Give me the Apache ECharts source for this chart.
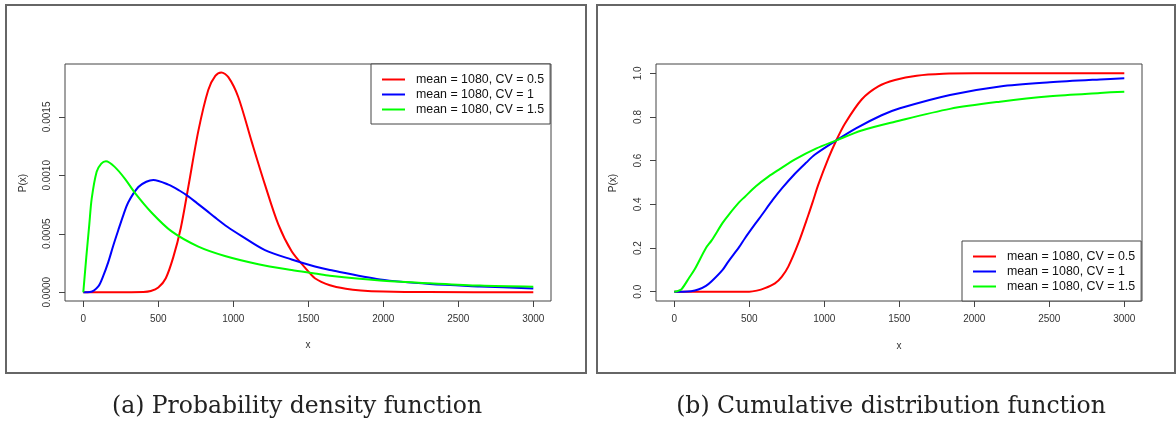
<!DOCTYPE html>
<html>
<head>
<meta charset="utf-8">
<script src="https://cdn.jsdelivr.net/npm/echarts@6/dist/echarts.min.js"></script>
<style>html,body{margin:0;padding:0;background:#fff}#c{width:1176px;height:431px}</style>
</head>
<body>
<div id="c"></div>
<script>
// ---- data ----
const seriesNames = ['mean = 1080, CV = 0.5', 'mean = 1080, CV = 1', 'mean = 1080, CV = 1.5'];
const xTicks = [0, 500, 1000, 1500, 2000, 2500, 3000];
const pdfTicks = [0, 0.0005, 0.0010, 0.0015];
const cdfTicks = [0, 0.2, 0.4, 0.6, 0.8, 1.0];

// PDF, CV = 0.5
const pdfRedX = [0, 200, 400, 450, 500, 550, 600, 650, 700, 767, 833, 880, 920, 967, 1033, 1122, 1211, 1300, 1389, 1478, 1544, 1644, 1750, 1850, 2000, 2300, 3000];
const pdfRedY = [0, 0, 0.000002, 0.00001, 0.00004, 0.00012, 0.00030, 0.00055, 0.00090, 0.00138, 0.00173, 0.00185, 0.00188, 0.00184, 0.00167, 0.00129, 0.00092, 0.00058, 0.00035, 0.00021, 0.00012, 0.00006, 0.00003, 0.000015, 0.000006, 0.000001, 0];
// PDF, CV = 1
const pdfBlueX = [0, 45, 100, 133, 167, 200, 233, 267, 300, 367, 420, 467, 567, 640, 700, 760, 820, 878, 960, 1056, 1211, 1389, 1544, 1644, 1978, 2311, 2644, 3000];
const pdfBlueY = [0, 0.000002, 0.00005, 0.00014, 0.00026, 0.00040, 0.00053, 0.00066, 0.00077, 0.00090, 0.000945, 0.00096, 0.00092, 0.00087, 0.00082, 0.00076, 0.00070, 0.00064, 0.00056, 0.00048, 0.00036, 0.00028, 0.00022, 0.00019, 0.00011, 0.00007, 0.00005, 0.000032];
// PDF, CV = 1.5
const pdfGreenX = [0, 20, 40, 56, 89, 120, 151, 211, 278, 344, 456, 589, 767, 944, 1167, 1389, 1544, 1644, 1978, 2311, 2644, 3000];
const pdfGreenY = [0, 0.0003, 0.00058, 0.00080, 0.00103, 0.00110, 0.00112, 0.00107, 0.00097, 0.00085, 0.00068, 0.00052, 0.00039, 0.00031, 0.00024, 0.00019, 0.00016, 0.00014, 0.00010, 0.000077, 0.000057, 0.000047];

// CDF, CV = 0.5
const cdfRedX = [0, 500, 550, 600, 671, 716, 760, 827, 893, 927, 960, 1027, 1078, 1138, 1249, 1360, 1471, 1616, 1793, 2000, 3000];
const cdfRedY = [0, 0, 0.005, 0.015, 0.038, 0.068, 0.115, 0.222, 0.35, 0.42, 0.49, 0.61, 0.69, 0.77, 0.88, 0.94, 0.969, 0.989, 0.998, 1, 1];
// CDF, CV = 1
const cdfBlueX = [0, 60, 112, 160, 211, 249, 322, 360, 433, 471, 544, 582, 656, 720, 804, 878, 938, 1078, 1211, 1382, 1504, 1838, 2171, 2504, 2838, 3000];
const cdfBlueY = [0, 0, 0.002, 0.01, 0.027, 0.048, 0.10, 0.138, 0.205, 0.245, 0.315, 0.35, 0.42, 0.475, 0.54, 0.59, 0.628, 0.692, 0.748, 0.808, 0.84, 0.901, 0.94, 0.959, 0.972, 0.977];
// CDF, CV = 1.5
const cdfGreenX = [0, 25, 49, 100, 138, 211, 249, 322, 360, 433, 471, 544, 627, 700, 811, 944, 1078, 1249, 1471, 1838, 2171, 2504, 2838, 3000];
const cdfGreenY = [0, 0.004, 0.012, 0.065, 0.105, 0.2, 0.235, 0.315, 0.35, 0.41, 0.435, 0.483, 0.527, 0.56, 0.608, 0.655, 0.692, 0.738, 0.778, 0.837, 0.87, 0.895, 0.91, 0.916];

const colors = ['#FF0000', '#0000FF', '#00FF00'];

// ---- build chart ----
const zip = (xs, ys) => xs.map((x, i) => [x, ys[i]]);
const pdfData = [zip(pdfRedX, pdfRedY), zip(pdfBlueX, pdfBlueY), zip(pdfGreenX, pdfGreenY)];
const cdfData = [zip(cdfRedX, cdfRedY), zip(cdfBlueX, cdfBlueY), zip(cdfGreenX, cdfGreenY)];

const sans = 'Liberation Sans, Arial, sans-serif';
const axisColor = '#444';
const labelStyle = { fontFamily: sans, fontSize: 10, color: '#333' };

function xAxisCfg(gi) {
  return {
    gridIndex: gi, type: 'value', min: -122, max: 3118,
    splitLine: { show: false },
    axisLine: { show: false, onZero: false },
    axisTick: { show: true, length: 6, inside: false, customValues: xTicks, lineStyle: { color: axisColor } },
    axisLabel: Object.assign({ margin: 13, customValues: xTicks, formatter: v => String(v) }, labelStyle)
  };
}
function yAxisCfg(gi, min, max, ticks, fmt) {
  return {
    gridIndex: gi, type: 'value', min: min, max: max,
    splitLine: { show: false },
    axisLine: { show: false, onZero: false },
    axisTick: { show: true, length: 6, inside: false, customValues: ticks, lineStyle: { color: axisColor } },
    axisLabel: Object.assign({ margin: 13, rotate: 90, customValues: ticks, formatter: fmt }, labelStyle)
  };
}

function legendCfg(left, top) {
  return {
    left: left, top: top, orient: 'vertical',
    padding: [8, 6, 7, 11],
    itemWidth: 23, itemHeight: 2, itemGap: 0,
    icon: 'rect',
    borderColor: axisColor, borderWidth: 1, borderRadius: 0,
    backgroundColor: '#fff',
    textStyle: { fontFamily: sans, fontSize: 12.4, lineHeight: 15, color: '#111', padding: [0, 0, 0, 6] },
    data: seriesNames.map((n, i) => ({ name: n, itemStyle: { color: colors[i] } }))
  };
}

const series = [];
for (let i = 0; i < 3; i++) {
  series.push({ name: seriesNames[i], type: 'line', xAxisIndex: 0, yAxisIndex: 0, data: pdfData[i],
    showSymbol: false, smooth: 0.3, color: colors[i], lineStyle: { width: 2, color: colors[i] }, animation: false, z: 3 });
  series.push({ name: seriesNames[i], type: 'line', xAxisIndex: 1, yAxisIndex: 1, data: cdfData[i],
    showSymbol: false, smooth: 0.3, color: colors[i], lineStyle: { width: 2, color: colors[i] }, animation: false, z: 3 });
}

const chart = echarts.init(document.getElementById('c'), null, { renderer: 'canvas' });
chart.setOption({
  animation: false,
  backgroundColor: '#fff',
  grid: [
    { left: 65, top: 64, width: 486, height: 237, show: true, borderColor: axisColor, borderWidth: 1, containLabel: false, outerBoundsMode: 'none' },
    { left: 656, top: 64, width: 486, height: 237, show: true, borderColor: axisColor, borderWidth: 1, containLabel: false, outerBoundsMode: 'none' }
  ],
  xAxis: [xAxisCfg(0), xAxisCfg(1)],
  yAxis: [
    yAxisCfg(0, -0.000075, 0.001952, pdfTicks, v => v.toFixed(4)),
    yAxisCfg(1, -0.0425, 1.0425, cdfTicks, v => v.toFixed(1))
  ],
  legend: [legendCfg(371, 64), legendCfg(962, 241)],
  series: series,
  graphic: [
    { type: 'rect', shape: { x: 6, y: 5, width: 580, height: 368 }, style: { fill: 'none', stroke: '#666', lineWidth: 2 }, silent: true },
    { type: 'rect', shape: { x: 597, y: 5, width: 578, height: 368 }, style: { fill: 'none', stroke: '#666', lineWidth: 2 }, silent: true },
    { type: 'text', x: 308, y: 345, style: { text: 'x', fontFamily: sans, fontSize: 10, fill: '#333', align: 'center', verticalAlign: 'middle' } },
    { type: 'text', x: 899, y: 346, style: { text: 'x', fontFamily: sans, fontSize: 10, fill: '#333', align: 'center', verticalAlign: 'middle' } },
    { type: 'text', x: 23, y: 183, rotation: Math.PI / 2, style: { text: 'P(x)', fontFamily: sans, fontSize: 10, fill: '#333', align: 'center', verticalAlign: 'middle' } },
    { type: 'text', x: 613, y: 183, rotation: Math.PI / 2, style: { text: 'P(x)', fontFamily: sans, fontSize: 10, fill: '#333', align: 'center', verticalAlign: 'middle' } },
    { type: 'text', x: 297, y: 407, style: { text: '(a) Probability density function', fontFamily: 'DejaVu Serif, serif', fontSize: 23.5, fill: '#222', align: 'center', verticalAlign: 'middle' } },
    { type: 'text', x: 891, y: 407, style: { text: '(b) Cumulative distribution function', fontFamily: 'DejaVu Serif, serif', fontSize: 23.5, fill: '#222', align: 'center', verticalAlign: 'middle' } }
  ]
});
</script>
</body>
</html>
